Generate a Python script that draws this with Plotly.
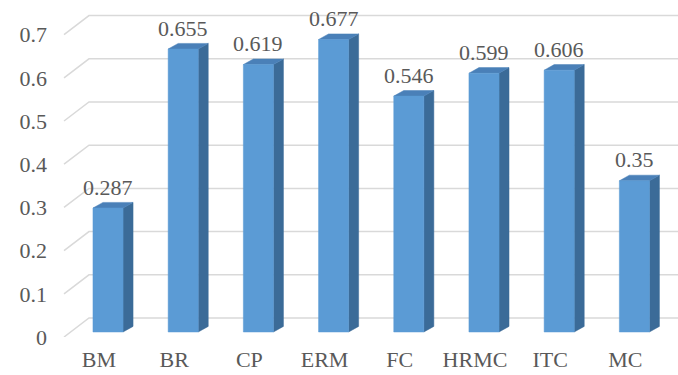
import plotly.graph_objects as go

categories = ["BM", "BR", "CP", "ERM", "FC", "HRMC", "ITC", "MC"]
values = [0.287, 0.655, 0.619, 0.677, 0.546, 0.599, 0.606, 0.35]
tick_values = [0, 0.1, 0.2, 0.3, 0.4, 0.5, 0.6, 0.7]
tick_labels = ["0", "0.1", "0.2", "0.3", "0.4", "0.5", "0.6", "0.7"]

# 3D look parameters (data units)
half_w = 0.2          # half width of front face
dx, dy = 0.133, 0.013  # depth offset of bar side/top
wall_dy = 0.0324       # back wall offset above bar plane
front_dy = -0.0116     # front floor edge offset
wall_x0, front_x0, x_end = -0.253, -0.585, 7.58

FRONT = "#5B9BD5"
SIDE = "#3B6B98"
TOP = "#4A80B8"
GRID = "#D9D9D9"
TXT = "#595959"
FONT = "Liberation Serif, Times New Roman, serif"

fig = go.Figure()

# gridlines: diagonal on floor side + horizontal on back wall
gx, gy = [], []
for v in tick_values:
    gx += [front_x0, wall_x0, x_end + 0.3, None]
    gy += [v + front_dy, v + wall_dy, v + wall_dy, None]
fig.add_trace(go.Scatter(x=gx, y=gy, mode="lines",
                         line=dict(color=GRID, width=1.5),
                         hoverinfo="skip", showlegend=False))

fx, fy, sx, sy, tx, ty = [], [], [], [], [], []
for i, v in enumerate(values):
    l, r = i - half_w, i + half_w
    fx += [l, r, r, l, l, None]
    fy += [0, 0, v, v, 0, None]
    sx += [r, r, r + dx, r + dx, r, None]
    sy += [0, v, v + dy, dy, 0, None]
    tx += [l, r, r + dx, l + dx, l, None]
    ty += [v, v, v + dy, v + dy, v, None]

for xs, ys, c in [(sx, sy, SIDE), (tx, ty, TOP), (fx, fy, FRONT)]:
    fig.add_trace(go.Scatter(x=xs, y=ys, mode="lines", fill="toself",
                             fillcolor=c, line=dict(color=c, width=0.5),
                             hoverinfo="skip", showlegend=False))

for i, v in enumerate(values):
    fig.add_annotation(x=i, y=v, xref="x", yref="y", text=f"{v:g}",
                       showarrow=False, yshift=21, yanchor="middle",
                       font=dict(family=FONT, size=22, color=TXT))

fig.update_layout(
    width=678, height=375,
    margin=dict(l=48, r=0, t=0, b=38),
    paper_bgcolor="white", plot_bgcolor="white",
    xaxis=dict(range=[-0.798, x_end], showgrid=False, zeroline=False,
               showline=False, ticks="outside", ticklen=3,
               tickcolor="rgba(0,0,0,0)",
               tickvals=[i - 0.12 for i in range(len(categories))],
               ticktext=categories,
               tickfont=dict(family=FONT, size=22, color=TXT)),
    yaxis=dict(range=[-0.01157, 0.7685], showgrid=False, zeroline=False,
               showline=False, ticks="",
               tickvals=[v + front_dy for v in tick_values],
               ticktext=tick_labels,
               tickfont=dict(family=FONT, size=22, color=TXT)),
)

fig.write_html("out.html")
